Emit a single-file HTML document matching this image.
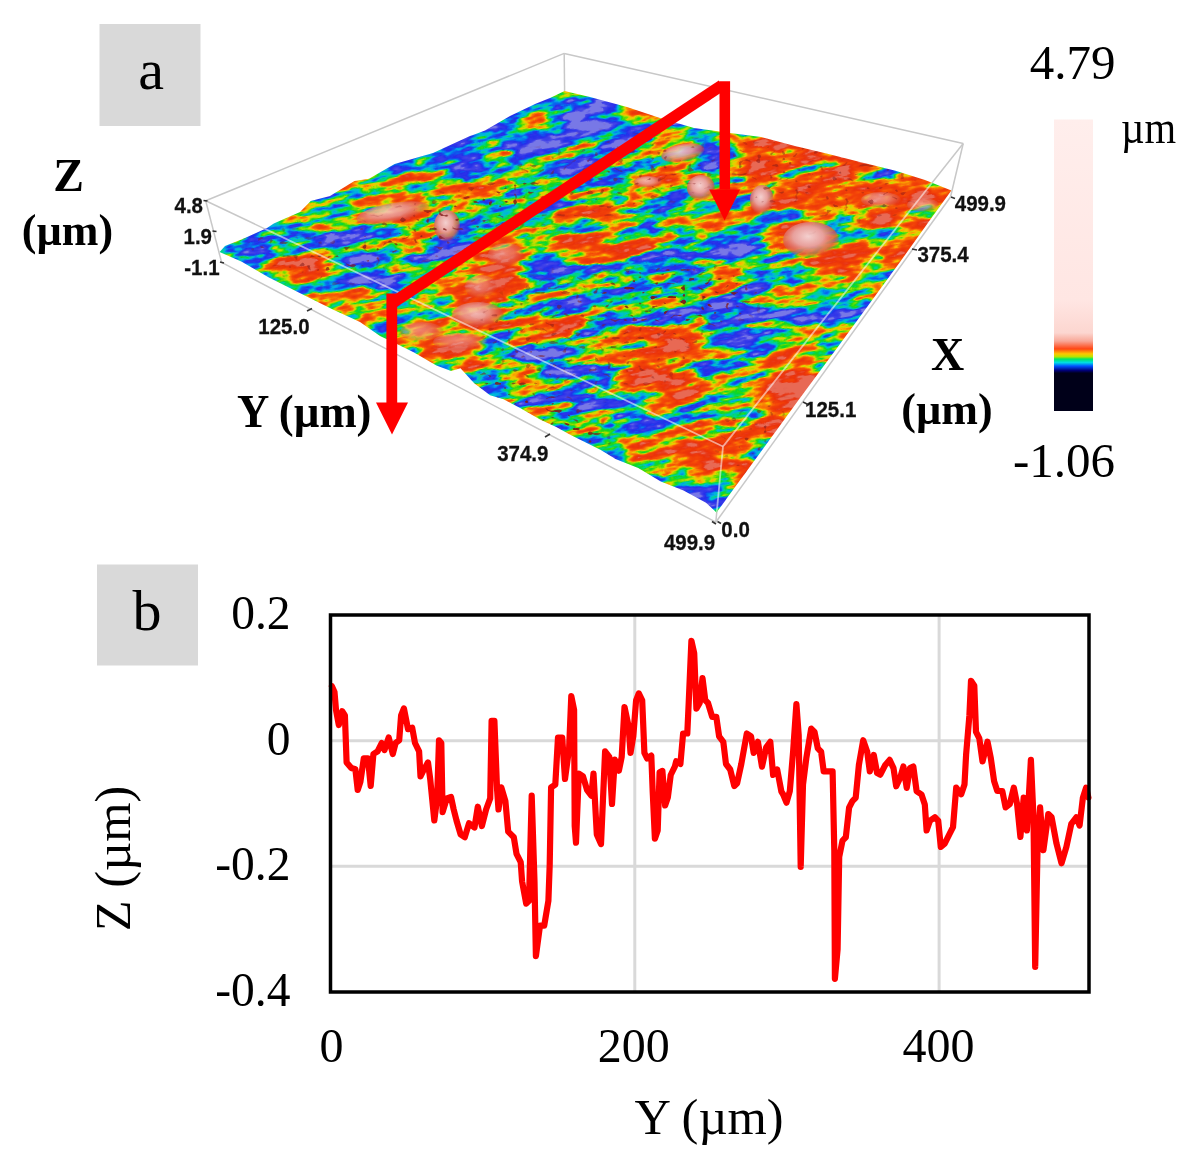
<!DOCTYPE html>
<html><head><meta charset="utf-8"><style>
html,body{margin:0;padding:0;background:#fff;}
body{width:1192px;height:1155px;overflow:hidden;}
svg{display:block;filter:blur(0.45px);}
</style></head><body>
<svg width="1192" height="1155" viewBox="0 0 1192 1155">
<defs><linearGradient id="cbg" x1="0" y1="0" x2="0" y2="1">
<stop offset="0" stop-color="#ffeeec"/>
<stop offset="0.619" stop-color="#ffe6e3"/>
<stop offset="0.732" stop-color="#fcd6d0"/>
<stop offset="0.76" stop-color="#f8a898"/>
<stop offset="0.787" stop-color="#ff4614"/>
<stop offset="0.804" stop-color="#ffc800"/>
<stop offset="0.814" stop-color="#b4e600"/>
<stop offset="0.822" stop-color="#00e664"/>
<stop offset="0.834" stop-color="#00dce6"/>
<stop offset="0.846" stop-color="#0050ff"/>
<stop offset="0.861" stop-color="#000078"/>
<stop offset="0.870" stop-color="#000019"/>
<stop offset="1" stop-color="#000019"/>
</linearGradient><clipPath id="sclip"><polygon points="219.6,252 225,246 245,238 267,228 273.8,223.5 300,212 310.7,201 330,196 354.4,181 369,178.8 394.6,164 433,153 470,136 485,130.6 510,116 535.6,103.8 550,98 564.5,91 590,97 627,107 660,118 694,128 730,133 761,137 795,146 828.5,154 860,162 895.6,170.7 925,180 951.4,190.6 930,220 900,262 870,303 840,344 800,398 760,453 716.5,512.5 706,502.7 683.5,490.6 660.8,481.5 638.2,468 615.5,458.9 600.4,449.8 570.2,434.7 556.2,427 540,419.6 521,408.6 503.5,399.2 490,395.2 474,383 460.5,368.3 451.1,371 436.4,365.6 413.6,352.2 397.4,344.2 380,336 360,322 333.4,309.8 307.2,296.7 268,277 241.8,261.8"/></clipPath><filter id="jet" filterUnits="userSpaceOnUse" x="-300" y="-300" width="1800" height="1200" color-interpolation-filters="sRGB">
<feTurbulence type="fractalNoise" baseFrequency="0.017 0.068" numOctaves="4" seed="7" result="n"/>
<feColorMatrix in="n" type="matrix" values="1 0 0 0 0  1 0 0 0 0  1 0 0 0 0  0 0 0 0 1" result="g"/>
<feTurbulence type="fractalNoise" baseFrequency="0.07 0.16" numOctaves="2" seed="23" result="n2"/>
<feColorMatrix in="n2" type="matrix" values="1 0 0 0 0  1 0 0 0 0  1 0 0 0 0  0 0 0 0 1" result="g2"/>
<feComposite in="g" in2="g2" operator="arithmetic" k1="0" k2="0.75" k3="0.25" k4="0" result="gm"/>
<feComposite in="SourceGraphic" in2="gm" operator="arithmetic" k1="0" k2="1.8" k3="2.1" k4="-1.45" result="h"/>
<feComponentTransfer in="h"><feFuncR type="table" tableValues="0.471 0.348 0.266 0.244 0.223 0.202 0.180 0.159 0.137 0.100 0.064 0.027 0.013 0.005 0.000 0.000 0.000 0.016 0.033 0.152 0.340 0.534 0.755 0.895 0.980 0.980 0.980 0.975 0.969 0.964 0.958 0.952 0.946 0.940 0.934 0.928 0.922 0.917 0.913 0.910 0.910"/><feFuncG type="table" tableValues="0.471 0.348 0.268 0.253 0.238 0.222 0.207 0.192 0.176 0.256 0.336 0.415 0.529 0.652 0.743 0.787 0.831 0.836 0.841 0.850 0.861 0.871 0.871 0.824 0.745 0.618 0.490 0.432 0.375 0.317 0.277 0.263 0.250 0.237 0.223 0.210 0.196 0.217 0.238 0.281 0.412"/><feFuncB type="table" tableValues="0.902 0.907 0.911 0.912 0.914 0.916 0.918 0.920 0.922 0.928 0.934 0.940 0.928 0.912 0.843 0.696 0.549 0.361 0.173 0.074 0.033 0.000 0.000 0.000 0.000 0.010 0.020 0.023 0.026 0.029 0.032 0.033 0.034 0.036 0.037 0.038 0.039 0.074 0.109 0.170 0.333"/><feFuncA type="linear" slope="0" intercept="1"/></feComponentTransfer>
<feGaussianBlur stdDeviation="0.7"/>
</filter><filter id="bl" x="-50%" y="-50%" width="200%" height="200%"><feGaussianBlur stdDeviation="9"/></filter><filter id="spk" filterUnits="userSpaceOnUse" x="150" y="40" width="850" height="520" color-interpolation-filters="sRGB">
<feTurbulence type="fractalNoise" baseFrequency="0.16 0.22" numOctaves="1" seed="11" result="t"/>
<feColorMatrix in="t" type="matrix" values="0 0 0 0 0.5  0 0 0 0 0.1  0 0 0 0 0.1  -14 0 0 0 4.9" result="d"/>
<feComposite in="d" in2="SourceGraphic" operator="in"/>
</filter><filter id="bl2" x="-50%" y="-50%" width="200%" height="200%"><feGaussianBlur stdDeviation="10"/></filter><mask id="spm" maskUnits="userSpaceOnUse" x="150" y="40" width="850" height="520"><g filter="url(#bl2)"><ellipse cx="540" cy="412" rx="80" ry="22" transform="rotate(28 540 412)" fill="#fff" fill-opacity="1.0"/><ellipse cx="680" cy="295" rx="80" ry="30" transform="rotate(0 680 295)" fill="#fff" fill-opacity="0.9"/><ellipse cx="430" cy="228" rx="120" ry="25" transform="rotate(-20 430 228)" fill="#fff" fill-opacity="0.8"/><ellipse cx="760" cy="440" rx="40" ry="40" transform="rotate(0 760 440)" fill="#fff" fill-opacity="0.6"/><ellipse cx="600" cy="180" rx="120" ry="40" transform="rotate(-10 600 180)" fill="#fff" fill-opacity="0.5"/><ellipse cx="820" cy="180" rx="100" ry="40" transform="rotate(10 820 180)" fill="#fff" fill-opacity="0.5"/><ellipse cx="300" cy="255" rx="60" ry="20" transform="rotate(20 300 255)" fill="#fff" fill-opacity="0.6"/><ellipse cx="600" cy="330" rx="120" ry="60" transform="rotate(0 600 330)" fill="#fff" fill-opacity="0.5"/></g></mask><radialGradient id="pk" cx="0.45" cy="0.4" r="0.6"><stop offset="0" stop-color="#f4d0cf"/><stop offset="0.45" stop-color="#e8a09c"/><stop offset="0.8" stop-color="#dc5a4c" stop-opacity="0.8"/><stop offset="1" stop-color="#d84030" stop-opacity="0"/></radialGradient></defs>
<rect x="99.5" y="24" width="101" height="102" fill="#d9d9d9"/>
<text x="151" y="89" font-family="'Liberation Serif', serif" font-size="58" text-anchor="middle">a</text>
<rect x="97" y="564.5" width="101" height="101" fill="#d9d9d9"/>
<text x="147" y="629.5" font-family="'Liberation Serif', serif" font-size="58" text-anchor="middle">b</text>
<text x="68.6" y="190.5" font-family="'Liberation Serif', serif" font-weight="bold" font-size="46" text-anchor="middle">Z</text>
<text x="67.4" y="244.5" font-family="'Liberation Serif', serif" font-weight="bold" font-size="44" text-anchor="middle">(µm)</text>
<text x="237" y="426.8" font-family="'Liberation Serif', serif" font-weight="bold" font-size="46" textLength="134.5" lengthAdjust="spacingAndGlyphs">Y (µm)</text>
<text x="947.6" y="370" font-family="'Liberation Serif', serif" font-weight="bold" font-size="46" text-anchor="middle">X</text>
<text x="947" y="423.6" font-family="'Liberation Serif', serif" font-weight="bold" font-size="44" text-anchor="middle">(µm)</text>
<rect x="1054" y="119.5" width="39" height="291.5" fill="url(#cbg)"/>
<text x="1072.5" y="78.5" font-family="'Liberation Serif', serif" font-size="49" text-anchor="middle">4.79</text>
<text x="1121" y="143" font-family="'Liberation Serif', serif" font-size="47" textLength="55" lengthAdjust="spacingAndGlyphs">µm</text>
<text x="1064" y="476.5" font-family="'Liberation Serif', serif" font-size="49" text-anchor="middle">-1.06</text>
<line x1="330.5" y1="740.7" x2="1089" y2="740.7" stroke="#d9d9d9" stroke-width="3"/>
<line x1="330.5" y1="866.3" x2="1089" y2="866.3" stroke="#d9d9d9" stroke-width="3"/>
<line x1="634.8" y1="615" x2="634.8" y2="992" stroke="#d9d9d9" stroke-width="3"/>
<line x1="939.1" y1="615" x2="939.1" y2="992" stroke="#d9d9d9" stroke-width="3"/>
<polyline points="331.9,686.3 334.5,692.0 336.0,710.0 338.8,725.0 342.2,711.2 344.9,715.4 346.6,762.4 351.3,768.0 355.4,769.3 357.7,790.0 360.4,781.8 363.8,758.3 367.9,758.3 370.7,786.0 373.4,754.0 377.6,751.3 381.7,743.0 384.5,750.0 388.7,737.5 392.8,754.0 395.6,743.0 399.2,740.3 401.1,715.4 403.9,708.4 408.0,729.2 412.2,727.8 415.0,743.0 419.1,751.3 420.5,776.3 423.3,770.7 428.0,762.4 430.2,779.0 434.3,820.5 437.1,798.4 439.0,740.3 441.3,743.0 442.6,812.2 446.8,798.4 451.0,797.0 453.7,809.5 456.5,820.5 460.6,834.4 464.8,837.2 469.0,823.3 474.5,827.5 477.8,806.7 481.9,826.0 486.1,809.5 490.2,798.4 491.6,720.9 494.4,720.9 497.1,790.1 498.5,809.5 501.3,787.3 505.4,801.2 508.2,831.6 513.8,837.2 516.5,853.8 520.7,862.1 522.1,881.5 526.2,903.6 529.0,900.8 531.7,795.6 534.5,881.5 535.9,956.2 540.0,925.7 544.2,925.7 548.4,900.8 549.7,864.8 551.1,787.3 555.3,784.6 558.0,737.5 562.2,737.5 565.0,779.0 569.1,748.6 571.3,696.0 574.1,709.8 574.7,826.1 576.0,842.7 578.8,773.5 583.0,776.3 587.1,790.1 591.3,795.6 593.5,773.5 596.8,834.4 601.0,844.1 605.1,751.4 609.3,756.9 612.0,804.0 614.8,759.6 618.9,770.7 621.7,756.9 624.5,707.0 628.6,726.4 630.5,752.9 633.3,736.3 636.1,700.3 638.8,693.4 642.2,700.3 644.4,752.9 647.1,758.4 651.3,755.6 652.7,791.6 654.9,838.7 657.7,830.4 659.6,772.2 662.4,770.9 665.1,805.5 667.9,797.2 670.7,775.0 674.8,766.7 676.2,761.2 680.4,764.0 683.1,733.5 687.3,733.5 688.7,703.0 691.4,640.8 694.2,653.2 696.4,708.6 699.7,703.0 702.5,678.1 705.3,700.3 708.0,703.0 712.2,716.9 716.3,716.9 719.1,736.3 723.3,741.8 726.0,764.0 730.2,769.5 734.3,786.1 737.1,783.3 741.3,764.0 746.8,733.5 751.0,736.3 753.7,752.9 757.9,741.8 762.0,766.7 766.2,747.3 770.3,741.8 773.1,775.0 777.2,769.5 781.4,791.6 783.2,794.5 786.5,802.7 789.8,791.2 793.1,751.7 796.4,704.0 798.7,735.2 800.7,866.9 803.0,784.6 806.3,758.3 811.2,728.6 814.5,731.9 817.8,748.4 821.1,751.7 823.7,771.4 827.7,771.4 832.6,771.4 834.3,850.4 834.9,978.8 837.6,949.2 839.2,857.0 842.5,840.6 845.8,837.3 849.1,807.7 852.4,801.1 855.7,797.8 858.9,764.9 863.2,740.2 867.2,751.7 869.8,771.4 873.8,755.0 877.1,773.1 880.3,774.7 885.3,764.9 889.6,759.9 893.5,768.1 896.2,786.3 900.1,778.0 903.4,766.5 906.7,787.9 910.0,768.1 913.3,766.5 916.6,791.2 921.5,794.5 924.8,804.4 926.6,830.5 929.9,820.8 934.9,817.3 938.2,820.6 940.8,846.9 944.7,843.6 949.7,833.7 953.0,827.2 956.2,787.7 961.2,794.3 964.5,784.4 966.1,754.8 969.4,715.4 971.0,680.8 974.3,685.8 976.0,731.8 979.3,738.4 982.5,761.4 987.5,741.7 990.8,758.1 994.1,781.1 997.3,791.0 1002.3,791.0 1005.6,807.4 1009.8,804.1 1013.8,787.7 1017.1,804.1 1020.4,837.0 1023.7,797.6 1026.9,830.5 1030.9,759.8 1033.5,817.3 1035.2,966.9 1037.5,850.2 1040.1,807.4 1043.4,850.2 1048.3,814.0 1051.6,817.3 1056.5,843.6 1061.5,863.3 1066.4,846.9 1071.3,823.9 1076.3,817.3 1079.6,825.5 1082.9,797.6 1086.1,787.7 1088.4,797.6" fill="none" stroke="#ff0000" stroke-width="6.2" stroke-linejoin="round" stroke-linecap="round"/>
<rect x="330.5" y="615" width="758.5" height="377" fill="none" stroke="#000" stroke-width="3.5"/>
<text x="290.5" y="629.0" font-family="'Liberation Serif', serif" font-size="47.5" text-anchor="end">0.2</text>
<text x="290.5" y="754.7" font-family="'Liberation Serif', serif" font-size="47.5" text-anchor="end">0</text>
<text x="290.5" y="880.3" font-family="'Liberation Serif', serif" font-size="47.5" text-anchor="end">-0.2</text>
<text x="290.5" y="1006.0" font-family="'Liberation Serif', serif" font-size="47.5" text-anchor="end">-0.4</text>
<text x="331.5" y="1062" font-family="'Liberation Serif', serif" font-size="48" text-anchor="middle">0</text>
<text x="633.7" y="1062" font-family="'Liberation Serif', serif" font-size="48" text-anchor="middle">200</text>
<text x="938.5" y="1062" font-family="'Liberation Serif', serif" font-size="48" text-anchor="middle">400</text>
<text x="709" y="1134" font-family="'Liberation Serif', serif" font-size="50.5" text-anchor="middle">Y (µm)</text>
<text transform="translate(130,858.5) rotate(-90)" x="0" y="0" font-family="'Liberation Serif', serif" font-size="50.5" text-anchor="middle">Z (µm)</text>
<line x1="205.7" y1="200.8" x2="564.2" y2="53.4" stroke="#c8c8c8" stroke-width="1.5"/><line x1="564.2" y1="53.4" x2="963.2" y2="143.5" stroke="#c8c8c8" stroke-width="1.5"/><line x1="564.2" y1="53.4" x2="564.6" y2="91" stroke="#c8c8c8" stroke-width="1.5"/><line x1="205.7" y1="200.8" x2="221.6" y2="262.4" stroke="#c8c8c8" stroke-width="1.5"/><line x1="205.7" y1="200.8" x2="723" y2="446.5" stroke="#c8c8c8" stroke-width="1.5"/><line x1="963.2" y1="143.5" x2="723" y2="446.5" stroke="#c8c8c8" stroke-width="1.5"/><line x1="221.6" y1="262.4" x2="715.8" y2="522.2" stroke="#c8c8c8" stroke-width="1.5"/><line x1="950.5" y1="197" x2="715.8" y2="522.2" stroke="#c8c8c8" stroke-width="1.5"/><line x1="723" y1="446.5" x2="715.8" y2="522.2" stroke="#c8c8c8" stroke-width="1.5"/><line x1="963.2" y1="143.5" x2="950.5" y2="197" stroke="#c8c8c8" stroke-width="1.5"/>
<g clip-path="url(#sclip)"><g filter="url(#jet)" transform="rotate(-10 585 300)"><g transform="rotate(10 585 300)"><rect x="150" y="40" width="850" height="520" fill="rgb(128,128,128)"/><g filter="url(#bl)"><ellipse cx="262" cy="250" rx="45" ry="16" transform="rotate(-25 262 250)" fill="rgb(68,68,68)"/><ellipse cx="330" cy="228" rx="26" ry="16" transform="rotate(0 330 228)" fill="rgb(91,91,91)"/><ellipse cx="365" cy="275" rx="50" ry="17" transform="rotate(22 365 275)" fill="rgb(68,68,68)"/><ellipse cx="575" cy="140" rx="75" ry="40" transform="rotate(-10 575 140)" fill="rgb(84,84,84)"/><ellipse cx="434" cy="160" rx="40" ry="16" transform="rotate(-20 434 160)" fill="rgb(86,86,86)"/><ellipse cx="505" cy="130" rx="80" ry="22" transform="rotate(-22 505 130)" fill="rgb(84,84,84)"/><ellipse cx="465" cy="238" rx="40" ry="14" transform="rotate(-10 465 238)" fill="rgb(81,81,81)"/><ellipse cx="627" cy="217" rx="24" ry="8" transform="rotate(0 627 217)" fill="rgb(81,81,81)"/><ellipse cx="711" cy="145" rx="12" ry="20" transform="rotate(0 711 145)" fill="rgb(89,89,89)"/><ellipse cx="738" cy="255" rx="38" ry="22" transform="rotate(0 738 255)" fill="rgb(76,76,76)"/><ellipse cx="836" cy="172" rx="16" ry="8" transform="rotate(0 836 172)" fill="rgb(96,96,96)"/><ellipse cx="863" cy="223" rx="16" ry="9" transform="rotate(0 863 223)" fill="rgb(89,89,89)"/><ellipse cx="547" cy="277" rx="28" ry="9" transform="rotate(0 547 277)" fill="rgb(81,81,81)"/><ellipse cx="563" cy="363" rx="55" ry="20" transform="rotate(15 563 363)" fill="rgb(76,76,76)"/><ellipse cx="639" cy="265" rx="21" ry="9" transform="rotate(0 639 265)" fill="rgb(89,89,89)"/><ellipse cx="670" cy="300" rx="110" ry="45" transform="rotate(-8 670 300)" fill="rgb(107,107,107)"/><ellipse cx="840" cy="310" rx="35" ry="28" transform="rotate(0 840 310)" fill="rgb(107,107,107)"/><ellipse cx="745" cy="335" rx="40" ry="40" transform="rotate(0 745 335)" fill="rgb(102,102,102)"/><ellipse cx="640" cy="415" rx="25" ry="16" transform="rotate(15 640 415)" fill="rgb(76,76,76)"/><ellipse cx="692" cy="490" rx="30" ry="18" transform="rotate(30 692 490)" fill="rgb(91,91,91)"/><ellipse cx="616" cy="455" rx="45" ry="16" transform="rotate(28 616 455)" fill="rgb(96,96,96)"/><ellipse cx="485" cy="382" rx="45" ry="10" transform="rotate(28 485 382)" fill="rgb(107,107,107)"/><ellipse cx="748" cy="462" rx="22" ry="32" transform="rotate(-35 748 462)" fill="rgb(173,173,173)"/><ellipse cx="303" cy="264" rx="32" ry="14" transform="rotate(25 303 264)" fill="rgb(168,168,168)"/><ellipse cx="366" cy="298" rx="28" ry="12" transform="rotate(25 366 298)" fill="rgb(168,168,168)"/><ellipse cx="393" cy="213" rx="37" ry="10" transform="rotate(-10 393 213)" fill="rgb(173,173,173)"/><ellipse cx="403" cy="185" rx="26" ry="12" transform="rotate(-15 403 185)" fill="rgb(142,142,142)"/><ellipse cx="496" cy="155" rx="14" ry="9" transform="rotate(0 496 155)" fill="rgb(147,147,147)"/><ellipse cx="578" cy="149" rx="14" ry="6" transform="rotate(0 578 149)" fill="rgb(147,147,147)"/><ellipse cx="530" cy="110" rx="13" ry="7" transform="rotate(0 530 110)" fill="rgb(147,147,147)"/><ellipse cx="463" cy="180" rx="23" ry="17" transform="rotate(0 463 180)" fill="rgb(132,132,132)"/><ellipse cx="598" cy="240" rx="52" ry="19" transform="rotate(0 598 240)" fill="rgb(158,158,158)"/><ellipse cx="506" cy="255" rx="20" ry="14" transform="rotate(0 506 255)" fill="rgb(173,173,173)"/><ellipse cx="478" cy="300" rx="27" ry="30" transform="rotate(0 478 300)" fill="rgb(173,173,173)"/><ellipse cx="443" cy="336" rx="43" ry="15" transform="rotate(20 443 336)" fill="rgb(168,168,168)"/><ellipse cx="547" cy="326" rx="38" ry="13" transform="rotate(0 547 326)" fill="rgb(163,163,163)"/><ellipse cx="625" cy="340" rx="30" ry="25" transform="rotate(0 625 340)" fill="rgb(147,147,147)"/><ellipse cx="840" cy="185" rx="110" ry="40" transform="rotate(14 840 185)" fill="rgb(165,165,165)"/><ellipse cx="828" cy="267" rx="47" ry="17" transform="rotate(0 828 267)" fill="rgb(158,158,158)"/><ellipse cx="657" cy="370" rx="40" ry="37" transform="rotate(0 657 370)" fill="rgb(178,178,178)"/><ellipse cx="700" cy="452" rx="26" ry="30" transform="rotate(-30 700 452)" fill="rgb(173,173,173)"/><ellipse cx="800" cy="405" rx="38" ry="50" transform="rotate(-30 800 405)" fill="rgb(193,193,193)"/><ellipse cx="900" cy="200" rx="40" ry="15" transform="rotate(20 900 200)" fill="rgb(163,163,163)"/></g></g></g><ellipse cx="393" cy="213" rx="37" ry="10" transform="rotate(-10 393 213)" fill="url(#pk)" opacity="0.8"/><ellipse cx="447" cy="226" rx="13" ry="16" transform="rotate(0 447 226)" fill="url(#pk)" opacity="1"/><ellipse cx="683" cy="153" rx="22" ry="9" transform="rotate(-10 683 153)" fill="url(#pk)" opacity="0.9"/><ellipse cx="701" cy="188" rx="14" ry="13" transform="rotate(0 701 188)" fill="url(#pk)" opacity="1"/><ellipse cx="648" cy="182" rx="14" ry="6" transform="rotate(0 648 182)" fill="url(#pk)" opacity="0.8"/><ellipse cx="762" cy="200" rx="12" ry="15" transform="rotate(0 762 200)" fill="url(#pk)" opacity="1"/><ellipse cx="811" cy="240" rx="28" ry="18" transform="rotate(0 811 240)" fill="url(#pk)" opacity="1"/><ellipse cx="881" cy="200" rx="20" ry="8" transform="rotate(0 881 200)" fill="url(#pk)" opacity="0.6"/><ellipse cx="923" cy="205" rx="16" ry="7" transform="rotate(0 923 205)" fill="url(#pk)" opacity="0.6"/><ellipse cx="506" cy="255" rx="18" ry="12" transform="rotate(0 506 255)" fill="url(#pk)" opacity="0.5"/><ellipse cx="478" cy="315" rx="26" ry="13" transform="rotate(0 478 315)" fill="url(#pk)" opacity="0.8"/><ellipse cx="481" cy="287" rx="16" ry="12" transform="rotate(0 481 287)" fill="url(#pk)" opacity="0.5"/><ellipse cx="422" cy="332" rx="22" ry="10" transform="rotate(0 422 332)" fill="url(#pk)" opacity="0.5"/><ellipse cx="460" cy="342" rx="27" ry="9" transform="rotate(0 460 342)" fill="url(#pk)" opacity="0.5"/><g mask="url(#spm)"><rect x="150" y="40" width="850" height="520" fill="#fff" filter="url(#spk)"/></g></g>
<g clip-path="url(#sclip)" stroke="#fff" stroke-opacity="0.55" stroke-width="1.8"><line x1="205.7" y1="200.8" x2="564.2" y2="53.4"/><line x1="564.2" y1="53.4" x2="963.2" y2="143.5"/><line x1="564.2" y1="53.4" x2="564.6" y2="91"/><line x1="205.7" y1="200.8" x2="221.6" y2="262.4"/><line x1="205.7" y1="200.8" x2="723" y2="446.5"/><line x1="963.2" y1="143.5" x2="723" y2="446.5"/><line x1="221.6" y1="262.4" x2="715.8" y2="522.2"/><line x1="950.5" y1="197" x2="715.8" y2="522.2"/><line x1="723" y1="446.5" x2="715.8" y2="522.2"/><line x1="963.2" y1="143.5" x2="950.5" y2="197"/></g>
<text transform="translate(203,213) scale(1,1.1)" font-family="'Liberation Sans', sans-serif" font-weight="bold" font-size="20.5" text-anchor="end" fill="#111" stroke="#111" stroke-width="0.25">4.8</text>
<text transform="translate(212,244.4) scale(1,1.1)" font-family="'Liberation Sans', sans-serif" font-weight="bold" font-size="20.5" text-anchor="end" fill="#111" stroke="#111" stroke-width="0.25">1.9</text>
<text transform="translate(219.6,274.9) scale(1,1.1)" font-family="'Liberation Sans', sans-serif" font-weight="bold" font-size="20.5" text-anchor="end" fill="#111" stroke="#111" stroke-width="0.25">-1.1</text>
<text transform="translate(309.6,333.7) scale(1,1.1)" font-family="'Liberation Sans', sans-serif" font-weight="bold" font-size="20.5" text-anchor="end" fill="#111" stroke="#111" stroke-width="0.25">125.0</text>
<text transform="translate(548.4,461) scale(1,1.1)" font-family="'Liberation Sans', sans-serif" font-weight="bold" font-size="20.5" text-anchor="end" fill="#111" stroke="#111" stroke-width="0.25">374.9</text>
<text transform="translate(715.2,549.8) scale(1,1.1)" font-family="'Liberation Sans', sans-serif" font-weight="bold" font-size="20.5" text-anchor="end" fill="#111" stroke="#111" stroke-width="0.25">499.9</text>
<text transform="translate(749.8,537) scale(1,1.1)" font-family="'Liberation Sans', sans-serif" font-weight="bold" font-size="20.5" text-anchor="end" fill="#111" stroke="#111" stroke-width="0.25">0.0</text>
<text transform="translate(856.3,416.9) scale(1,1.1)" font-family="'Liberation Sans', sans-serif" font-weight="bold" font-size="20.5" text-anchor="end" fill="#111" stroke="#111" stroke-width="0.25">125.1</text>
<text transform="translate(968.7,262) scale(1,1.1)" font-family="'Liberation Sans', sans-serif" font-weight="bold" font-size="20.5" text-anchor="end" fill="#111" stroke="#111" stroke-width="0.25">375.4</text>
<text transform="translate(1006,211.4) scale(1,1.1)" font-family="'Liberation Sans', sans-serif" font-weight="bold" font-size="20.5" text-anchor="end" fill="#111" stroke="#111" stroke-width="0.25">499.9</text>
<line x1="203.5" y1="200.5" x2="207.5" y2="201" stroke="#333" stroke-width="1.6"/>
<line x1="212.5" y1="231" x2="216.5" y2="231.5" stroke="#333" stroke-width="1.6"/>
<line x1="220" y1="262" x2="224" y2="263" stroke="#333" stroke-width="1.6"/>
<line x1="307" y1="311" x2="312" y2="308.5" stroke="#333" stroke-width="1.6"/>
<line x1="545" y1="437" x2="550" y2="434" stroke="#333" stroke-width="1.6"/>
<line x1="712" y1="521.5" x2="716" y2="524" stroke="#333" stroke-width="1.6"/>
<line x1="717.5" y1="521.5" x2="721" y2="523.5" stroke="#333" stroke-width="1.6"/>
<line x1="803" y1="402" x2="808" y2="404.5" stroke="#333" stroke-width="1.6"/>
<line x1="912" y1="249" x2="917" y2="250" stroke="#333" stroke-width="1.6"/>
<line x1="951" y1="197" x2="955" y2="198.5" stroke="#333" stroke-width="1.6"/>
<g fill="#ff0000" stroke="none"><polygon points="386.4,293.6 397.2,293.6 397.2,403 386.4,403"/><polygon points="376,402.5 408,402.5 392,434.4"/><polygon points="719.5,81.3 730.1,81.3 730.1,189.5 719.5,189.5"/><polygon points="709.2,189.5 740.1,189.5 724.6,220.5"/></g>
<line x1="392" y1="303.3" x2="722" y2="85.3" stroke="#ff0000" stroke-width="11.5"/>
</svg>
</body></html>
